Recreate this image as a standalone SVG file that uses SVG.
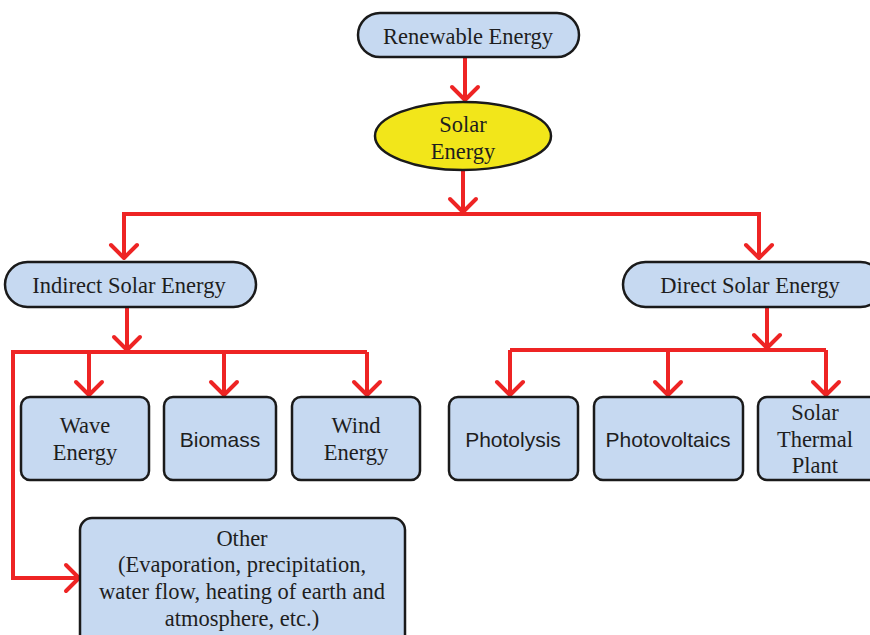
<svg xmlns="http://www.w3.org/2000/svg" width="870" height="635" viewBox="0 0 870 635">
  <style>
    .box { fill: #c6d9f1; stroke: #1a1a1a; stroke-width: 2.5; }
    .sun { fill: #f2e61a; stroke: #1a1a1a; stroke-width: 2.5; }
    .lbl { font-family: "Liberation Serif", "Times New Roman", serif; font-size: 22.5px; fill: #1e1e1e; text-anchor: middle; }
    .sans { font-family: "Liberation Sans", Arial, sans-serif; font-size: 21px; }
    .wire { fill: none; stroke: #ee2424; stroke-width: 4; stroke-linejoin: miter; }
    .tip { fill: none; stroke: #ee2424; stroke-width: 4; stroke-linecap: round; stroke-linejoin: round; }
  </style>
  <rect width="870" height="635" fill="#ffffff"/>

  <g id="connectors">
    <!-- Renewable -> Solar -->
    <path class="wire" d="M465 57 V100"/>
    <path class="tip" d="M452 87 L465 100 L478 87"/>
    <!-- Solar -> branch bar -->
    <path class="wire" d="M463 170 V212"/>
    <path class="tip" d="M450 199 L463 212 L476 199"/>
    <path class="wire" d="M124 214 H759 M124 212 V258 M759 212 V258"/>
    <path class="tip" d="M111 245 L124 258 L137 245"/>
    <path class="tip" d="M746 245 L759 258 L772 245"/>

    <!-- Indirect branch -->
    <path class="wire" d="M127 307 V350"/>
    <path class="tip" d="M114 337 L127 350 L140 337"/>
    <path class="wire" d="M13 352 H367 M89 352 V395 M224 352 V395 M367 352 V395"/>
    <path class="tip" d="M76 382 L89 395 L102 382"/>
    <path class="tip" d="M211 382 L224 395 L237 382"/>
    <path class="tip" d="M354 382 L367 395 L380 382"/>
    <path class="wire" d="M13 350 V578 H79"/>
    <path class="tip" d="M66 565 L79 578 L66 591"/>

    <!-- Direct branch -->
    <path class="wire" d="M767 307 V348"/>
    <path class="tip" d="M754 335 L767 348 L780 335"/>
    <path class="wire" d="M510 350 H826 M510 350 V395 M668 350 V395 M826 350 V395"/>
    <path class="tip" d="M497 382 L510 395 L523 382"/>
    <path class="tip" d="M655 382 L668 395 L681 382"/>
    <path class="tip" d="M813 382 L826 395 L839 382"/>
  </g>

  <g id="renewable">
    <rect class="box" x="358" y="13" width="221" height="44" rx="22"/>
    <text class="lbl" x="468" y="44">Renewable Energy</text>
  </g>

  <g id="solar">
    <ellipse class="sun" cx="463" cy="136" rx="88" ry="34"/>
    <text class="lbl" x="463" y="132">Solar</text>
    <text class="lbl" x="463" y="159">Energy</text>
  </g>

  <g id="indirect">
    <rect class="box" x="5" y="262" width="251" height="45" rx="22.5"/>
    <text class="lbl" x="129" y="293">Indirect Solar Energy</text>
  </g>

  <g id="direct">
    <rect class="box" x="623" y="262" width="260" height="45" rx="22.5"/>
    <text class="lbl" x="750" y="293">Direct Solar Energy</text>
  </g>

  <g id="wave">
    <rect class="box" x="21" y="397" width="128" height="83" rx="9"/>
    <text class="lbl" x="85" y="433">Wave</text>
    <text class="lbl" x="85" y="460">Energy</text>
  </g>

  <g id="biomass">
    <rect class="box" x="164" y="397" width="112" height="83" rx="9"/>
    <text class="lbl sans" x="220" y="447">Biomass</text>
  </g>

  <g id="wind">
    <rect class="box" x="292" y="397" width="128" height="83" rx="9"/>
    <text class="lbl" x="356" y="433">Wind</text>
    <text class="lbl" x="356" y="460">Energy</text>
  </g>

  <g id="photolysis">
    <rect class="box" x="449" y="397" width="129" height="83" rx="9"/>
    <text class="lbl sans" x="513" y="447">Photolysis</text>
  </g>

  <g id="photovoltaics">
    <rect class="box" x="594" y="397" width="149" height="83" rx="9"/>
    <text class="lbl sans" x="668" y="447">Photovoltaics</text>
  </g>

  <g id="thermal">
    <rect class="box" x="758" y="397" width="120" height="83" rx="9"/>
    <text class="lbl" x="815" y="420">Solar</text>
    <text class="lbl" x="815" y="447">Thermal</text>
    <text class="lbl" x="815" y="473">Plant</text>
  </g>

  <g id="other">
    <rect class="box" x="80" y="518" width="325" height="130" rx="12"/>
    <text class="lbl" x="242" y="546">Other</text>
    <text class="lbl" x="242" y="572">(Evaporation, precipitation,</text>
    <text class="lbl" x="242" y="599">water flow, heating of earth and</text>
    <text class="lbl" x="242" y="626">atmosphere, etc.)</text>
  </g>
</svg>
